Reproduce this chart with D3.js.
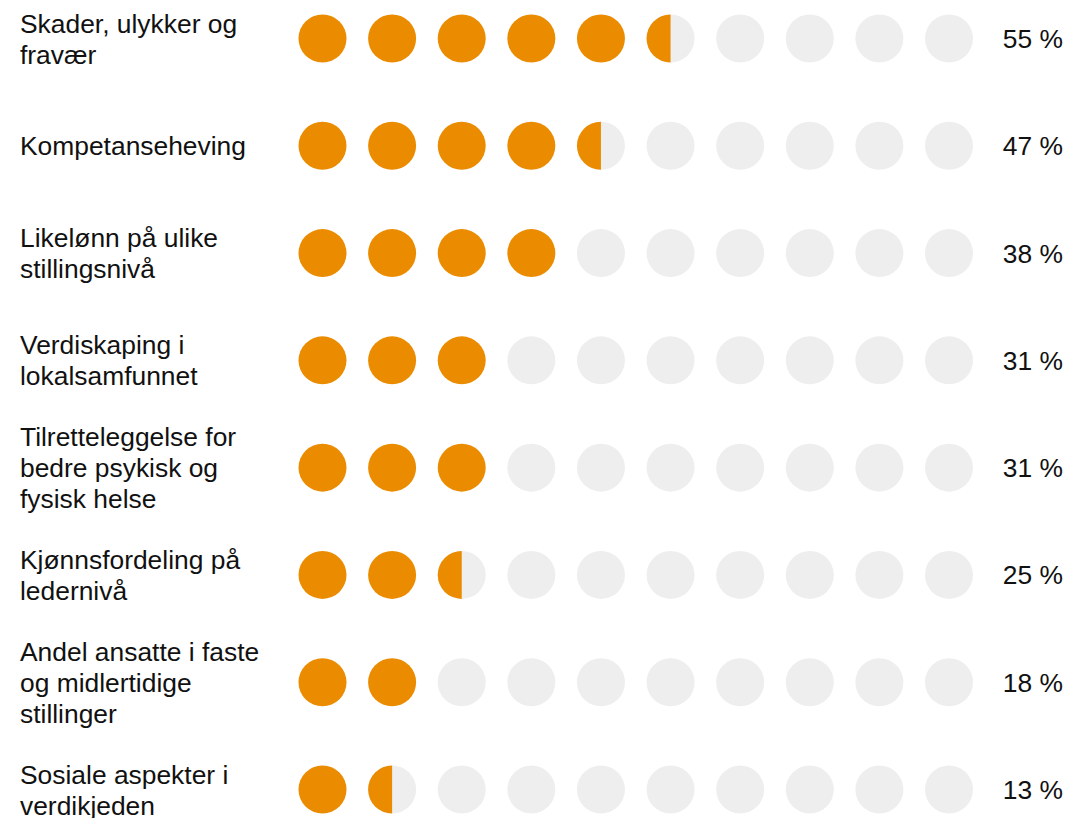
<!DOCTYPE html>
<html>
<head>
<meta charset="utf-8">
<script src="https://cdn.jsdelivr.net/npm/d3@7"></script>
<style>
  html, body { margin: 0; padding: 0; background: #ffffff; }
  svg { display: block; }
  text { font-family: "Liberation Sans", Arial, Helvetica, sans-serif; fill: #111111; }
</style>
</head>
<body>
<svg id="chart" width="1068" height="818"></svg>
<script>
// ---- Data ----
const categories = [
  ["Skader, ulykker og", "fravær"],
  ["Kompetanseheving"],
  ["Likelønn på ulike", "stillingsnivå"],
  ["Verdiskaping i", "lokalsamfunnet"],
  ["Tilretteleggelse for", "bedre psykisk og", "fysisk helse"],
  ["Kjønnsfordeling på", "ledernivå"],
  ["Andel ansatte i faste", "og midlertidige", "stillinger"],
  ["Sosiale aspekter i", "verdikjeden"]
];
const values = [55, 47, 38, 31, 31, 25, 18, 13];
const dotSlots = [0, 1, 2, 3, 4, 5, 6, 7, 8, 9];

// ---- Layout ----
const W = 1068, H = 818;
const fontSize = 26.4;
const lineH = 31;
const R = 24;
const orange = "#eb8c00";
const grey = "#eeeeee";

const svg = d3.select("#chart");

const rowIdx = d3.range(categories.length);
const y = d3.scalePoint().domain(rowIdx).range([38.5, 789.5]);
const x = d3.scalePoint().domain(dotSlots).range([322.5, 949]);

// fill count rounded to nearest half dot (each dot = 10 %)
const fillOf = v => Math.round(v / 5) / 2;

const rows = svg.selectAll("g.row")
  .data(rowIdx)
  .join("g")
  .attr("class", "row")
  .attr("transform", i => `translate(0,${y(i)})`);

// labels
rows.append("text")
  .attr("x", 20)
  .attr("font-size", fontSize)
  .each(function(i) {
    const lines = categories[i];
    const n = lines.length;
    const t = d3.select(this);
    lines.forEach((ln, k) => {
      t.append("tspan")
        .attr("x", 20)
        .attr("y", (k - (n - 1) / 2) * lineH + fontSize * 0.36)
        .text(ln);
    });
  });

// dots
const halfArc = d3.arc().innerRadius(0).outerRadius(R)
  .startAngle(Math.PI).endAngle(2 * Math.PI);

rows.each(function(i) {
  const g = d3.select(this);
  const f = fillOf(values[i]);
  const dots = g.selectAll("g.dot")
    .data(dotSlots)
    .join("g")
    .attr("class", "dot")
    .attr("transform", d => `translate(${x(d)},0)`);
  dots.append("circle")
    .attr("r", R)
    .attr("fill", d => (d + 1 <= f ? orange : grey));
  dots.filter(d => d < f && d + 1 > f)
    .append("path")
    .attr("d", halfArc())
    .attr("fill", orange);
});

// percentages
rows.append("text")
  .attr("x", 1063)
  .attr("y", fontSize * 0.36)
  .attr("text-anchor", "end")
  .attr("font-size", fontSize)
  .text(i => values[i] + " %");
</script>
</body>
</html>
